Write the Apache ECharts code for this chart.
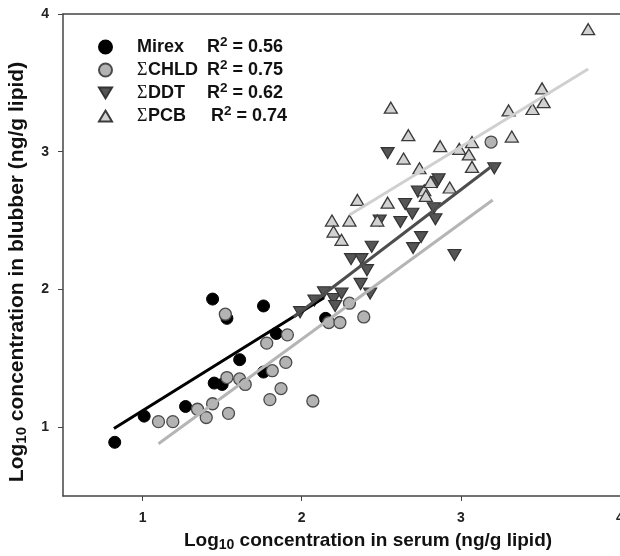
<!DOCTYPE html>
<html><head><meta charset="utf-8">
<script src="https://cdn.jsdelivr.net/npm/echarts@6/dist/echarts.min.js"></script>
<style>html,body{margin:0;padding:0;background:#fff;overflow:hidden}#c{width:620px;height:556px}</style>
</head><body><div id="c"></div>
<script>
// ---- data ----
var xTicks = [1, 2, 3, 4];
var yTicks = [1, 2, 3, 4];
var seriesNames = ['Mirex', 'ΣCHLD', 'ΣDDT', 'ΣPCB'];
var r2Values = ['0.56', '0.75', '0.62', '0.74'];

var mirexX = [0.825, 1.01, 1.27, 1.44, 1.45, 1.50, 1.53, 1.61, 1.76, 1.76, 1.84, 2.15];
var mirexY = [0.89, 1.08, 1.15, 1.93, 1.32, 1.31, 1.79, 1.49, 1.88, 1.40, 1.68, 1.79];

var chldX = [1.10, 1.19, 1.345, 1.40, 1.44, 1.52, 1.53, 1.54, 1.61, 1.645, 1.78, 1.80, 1.815, 1.87, 1.90, 1.91, 2.07, 2.17, 2.24, 2.30, 2.39, 3.19];
var chldY = [1.04, 1.04, 1.13, 1.07, 1.17, 1.82, 1.36, 1.10, 1.35, 1.31, 1.61, 1.20, 1.41, 1.28, 1.47, 1.67, 1.19, 1.76, 1.76, 1.90, 1.80, 3.07];

var ddtX = [1.99, 2.08, 2.14, 2.20, 2.21, 2.25, 2.37, 2.43, 2.31, 2.375, 2.41, 2.44, 2.49, 2.54, 2.62, 2.65, 2.695, 2.70, 2.73, 2.75, 2.83, 2.84, 2.85, 2.86, 2.96, 3.21];
var ddtY = [1.835, 1.92, 1.98, 1.93, 1.88, 1.97, 2.04, 1.97, 2.22, 2.22, 2.14, 2.31, 2.50, 2.99, 2.49, 2.62, 2.55, 2.30, 2.71, 2.38, 2.59, 2.51, 2.78, 2.80, 2.25, 2.88];

var pcbX = [2.19, 2.20, 2.25, 2.30, 2.35, 2.475, 2.54, 2.56, 2.64, 2.67, 2.74, 2.77, 2.78, 2.81, 2.87, 2.93, 2.99, 3.05, 3.07, 3.07, 3.30, 3.32, 3.45, 3.51, 3.52, 3.80];
var pcbY = [2.50, 2.42, 2.36, 2.50, 2.65, 2.50, 2.63, 3.32, 2.95, 3.12, 2.88, 2.72, 2.68, 2.78, 3.04, 2.74, 3.02, 2.98, 3.07, 2.89, 3.30, 3.11, 3.31, 3.46, 3.36, 3.89];

var mirexFitX = [0.82, 2.14], mirexFitY = [0.99, 1.94];
var chldFitX = [1.10, 3.20], chldFitY = [0.88, 2.65];
var ddtFitX = [1.95, 3.20], ddtFitY = [1.80, 2.90];
var pcbFitX = [2.30, 3.80], pcbFitY = [2.54, 3.60];

// ---- helpers ----
function zip(xs, ys) { return xs.map(function (x, i) { return [x, ys[i]]; }); }
var FONT = '"Liberation Sans", Arial, sans-serif';
var SERIF = '"Liberation Serif", "Times New Roman", serif';
var triDown = 'path://M0,0 L12,0 L6,10 Z';
var triUp = 'path://M6,0 L12,10 L0,10 Z';

var chart = echarts.init(document.getElementById('c'), null, { renderer: 'canvas' });

function legendFmt(name) {
  var i = seriesNames.indexOf(name);
  var head = name.charAt(0) === 'Σ'
    ? '{g|Σ}{' + (name === 'ΣPCB' ? 'w' : 'n') + '|' + name.slice(1) + '}'
    : '{m|' + name + '}';
  return head + '{r|R}{s|2}{v| = ' + r2Values[i] + '}';
}
var richLegend = {
  m: { fontFamily: FONT, fontWeight: 'bold', fontSize: 18, color: '#111', width: 70 },
  g: { fontFamily: SERIF, fontSize: 18, color: '#111', width: 11 },
  n: { fontFamily: FONT, fontWeight: 'bold', fontSize: 18, color: '#111', width: 59 },
  w: { fontFamily: FONT, fontWeight: 'bold', fontSize: 18, color: '#111', width: 63 },
  r: { fontFamily: FONT, fontWeight: 'bold', fontSize: 18, color: '#111' },
  s: { fontFamily: FONT, fontWeight: 'bold', fontSize: 13.5, color: '#111', padding: [0, 0, 10, 0] },
  v: { fontFamily: FONT, fontWeight: 'bold', fontSize: 18, color: '#111' }
};

var legends = seriesNames.map(function (n, i) {
  return {
    data: [n], left: 98, top: 35 + i * 23, orient: 'vertical', padding: 0,
    itemWidth: 13, itemHeight: 13, selectedMode: false,
    formatter: legendFmt,
    textStyle: { padding: [0, 0, 0, 20], rich: richLegend }
  };
});

function fitSeries(xs, ys, color) {
  return {
    type: 'line', data: zip(xs, ys), symbol: 'none', z: 5, silent: true,
    lineStyle: { color: color, width: 3 }, animation: false
  };
}

var axisCommon = {
  type: 'value', min: 0.5, max: 4,
  axisLine: { show: true, lineStyle: { color: '#444', width: 1.5 } },
  splitLine: { show: false }
};

var option = {
  animation: false,
  backgroundColor: '#fff',
  grid: { left: 63, right: 0, top: 14, bottom: 60, containLabel: false, outerBoundsMode: 'none' },
  legend: legends,
  xAxis: [
    Object.assign({}, axisCommon, {
      position: 'bottom',
      axisTick: { show: true, length: 5, customValues: xTicks, lineStyle: { color: '#444' } },
      axisLabel: { customValues: xTicks, margin: 15, fontFamily: FONT, fontWeight: 'bold', fontSize: 14, color: '#222', showMaxLabel: true, hideOverlap: false }
    }),
    Object.assign({}, axisCommon, {
      position: 'top',
      axisTick: { show: false }, axisLabel: { show: false }
    })
  ],
  yAxis: Object.assign({}, axisCommon, {
    axisTick: { show: true, length: 5, customValues: yTicks, lineStyle: { color: '#444' } },
    axisLabel: { customValues: yTicks, margin: 14, fontFamily: FONT, fontWeight: 'bold', fontSize: 14, color: '#222', showMaxLabel: true }
  }),
  graphic: [
    {
      type: 'text', x: 368, y: 541, z: 10,
      style: {
        text: '{a|Log}{b|10}{a| concentration in serum (ng/g lipid)}',
        align: 'center', verticalAlign: 'middle',
        rich: {
          a: { fontFamily: FONT, fontWeight: 'bold', fontSize: 19, fill: '#111' },
          b: { fontFamily: FONT, fontWeight: 'bold', fontSize: 14, fill: '#111', padding: [9, 0, 0, 0] }
        }
      }
    },
    {
      type: 'text', x: 17, y: 272, rotation: Math.PI / 2, z: 10,
      style: {
        text: '{a|Log}{b|10}{a| concentration in blubber (ng/g lipid)}',
        align: 'center', verticalAlign: 'middle',
        rich: {
          a: { fontFamily: FONT, fontWeight: 'bold', fontSize: 21, fill: '#111' },
          b: { fontFamily: FONT, fontWeight: 'bold', fontSize: 15, fill: '#111', padding: [10, 0, 0, 0] }
        }
      }
    }
  ],
  series: [
    {
      name: 'Mirex', type: 'scatter', data: zip(mirexX, mirexY), symbol: 'circle', symbolSize: 12, z: 3,
      itemStyle: { color: '#000', borderColor: '#000', borderWidth: 1, opacity: 1 }
    },
    {
      name: 'ΣCHLD', type: 'scatter', data: zip(chldX, chldY), symbol: 'circle', symbolSize: 12, z: 3,
      itemStyle: { color: '#b3b3b3', borderColor: '#4a4a4a', borderWidth: 1.3, opacity: 1 }
    },
    {
      name: 'ΣDDT', type: 'scatter', data: zip(ddtX, ddtY), symbol: triDown, symbolSize: [13, 11], z: 3,
      itemStyle: { color: '#555', borderColor: '#333', borderWidth: 1.2, opacity: 1 }
    },
    {
      name: 'ΣPCB', type: 'scatter', data: zip(pcbX, pcbY), symbol: triUp, symbolSize: [13, 11], z: 3,
      itemStyle: { color: '#d2d2d2', borderColor: '#3a3a3a', borderWidth: 1.3, opacity: 1 }
    },
    fitSeries(mirexFitX, mirexFitY, '#000'),
    fitSeries(chldFitX, chldFitY, '#b5b5b5'),
    fitSeries(ddtFitX, ddtFitY, '#4d4d4d'),
    fitSeries(pcbFitX, pcbFitY, '#d0d0d0')
  ]
};
chart.setOption(option);
</script>
</body></html>
